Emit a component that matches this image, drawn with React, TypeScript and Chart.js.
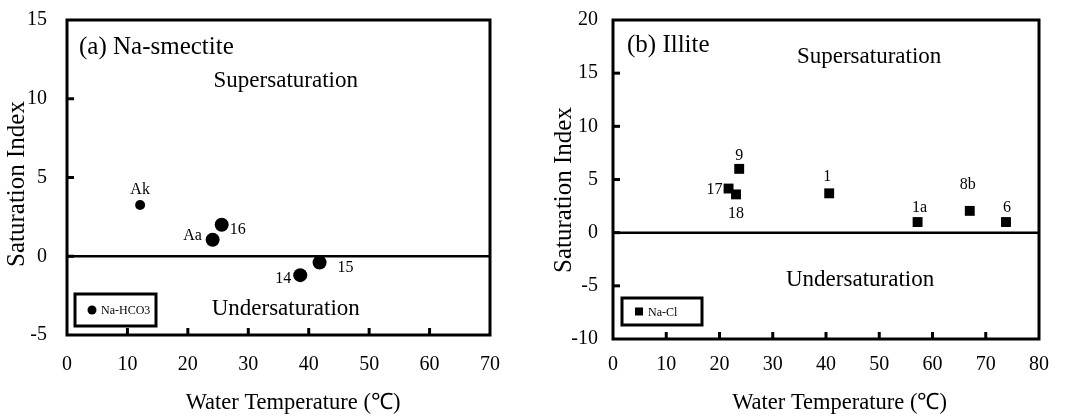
import React, { useEffect, useRef } from "react";
import { Chart, registerables } from "chart.js";
Chart.register(...registerables);

// ---------- data ----------
const smectiteTemps = [12.1, 24.1, 25.6, 38.6, 41.8];
const smectiteSI = [3.25, 1.05, 2.0, -1.2, -0.4];
const smectiteNames = ["Ak", "Aa", "16", "14", "15"];

const illiteTemps = [21.7, 23.1, 23.7, 40.6, 57.2, 67.0, 73.8];
const illiteSI = [4.15, 3.6, 6.0, 3.7, 1.0, 2.05, 1.0];
const illiteNames = ["17", "18", "9", "1", "1a", "8b", "6"];

const smectiteXTicks = [0, 70, 10];
const smectiteYTicks = [-5, 15, 5];
const illiteXTicks = [0, 80, 10];
const illiteYTicks = [-10, 20, 5];

const xTitle = "Water Temperature (℃)";
const yTitle = "Saturation Index";

// ---------- styles ----------
const FONT = '"Liberation Serif", "Times New Roman", serif';

type Panel = {
  title: string;
  legend: string;
  pointStyle: string;
  radius: number[];
  temps: number[];
  si: number[];
  names: string[];
  labelOffsets: [number, number][];
  xTicks: number[];
  yTicks: number[];
  width: number;
  left: number;
  area: [number, number, number, number]; // left, top, right, bottom in canvas px
  xTickPad: number;
  yTickPad: number;
  titleDX: number;
  titleDY: number;
  superPos: [number, number];
  underPos: [number, number];
  legendBox: [number, number, number, number];
  xTitleDX: number;
  yTitleX: number;
  yTitleY: number;
};

const panels: Panel[] = [
  {
    title: "(a) Na-smectite",
    legend: "Na-HCO3",
    pointStyle: "circle",
    radius: [5, 7, 7, 7, 7],
    temps: smectiteTemps,
    si: smectiteSI,
    names: smectiteNames,
    labelOffsets: [[0, -15], [-20, -4], [16, 5], [-17, 4], [26, 5]],
    xTicks: smectiteXTicks,
    yTicks: smectiteYTicks,
    width: 530,
    left: 0,
    area: [67, 20, 490, 335],
    xTickPad: 18,
    yTickPad: 20,
    titleDX: 12,
    titleDY: 27,
    superPos: [36.2, 11.1],
    underPos: [36.2, -3.37],
    legendBox: [8, 9, 81, 32],
    xTitleDX: 14.5,
    yTitleX: 17,
    yTitleY: 184,
  },
  {
    title: "(b) Illite",
    legend: "Na-Cl",
    pointStyle: "rect",
    radius: [7, 7, 7, 7, 7, 7, 7],
    temps: illiteTemps,
    si: illiteSI,
    names: illiteNames,
    labelOffsets: [[-14, 1], [0, 19], [0, -13], [-2, -17], [2, -14], [-2, -26], [1, -14]],
    xTicks: illiteXTicks,
    yTicks: illiteYTicks,
    width: 536,
    left: 530,
    area: [83, 20, 509, 339],
    xTickPad: 14,
    yTickPad: 15,
    titleDX: 14,
    titleDY: 25,
    superPos: [48.1, 16.5],
    underPos: [46.4, -4.46],
    legendBox: [9, 14, 80, 27],
    xTitleDX: 13.5,
    yTitleX: 34,
    yTitleY: 190,
  },
];

function makeDecor(p: Panel) {
  return {
    id: "decor",
    beforeDatasetsDraw(chart: any) {
      const { ctx, chartArea: a, scales } = chart;
      const y0 = scales.y.getPixelForValue(0);
      ctx.save();
      ctx.strokeStyle = "#000";
      ctx.lineWidth = 2.5;
      ctx.beginPath();
      ctx.moveTo(a.left, y0);
      ctx.lineTo(a.right, y0);
      ctx.stroke();
      ctx.restore();
    },
    afterDraw(chart: any) {
      const { ctx, chartArea: a, scales } = chart;
      const xs = scales.x;
      const ys = scales.y;
      ctx.save();
      ctx.strokeStyle = "#000";
      ctx.fillStyle = "#000";
      // inward ticks
      ctx.lineWidth = 3;
      xs.ticks.forEach((t: any) => {
        if (t.value > xs.min && t.value < xs.max) {
          const px = xs.getPixelForValue(t.value);
          ctx.beginPath();
          ctx.moveTo(px, a.bottom);
          ctx.lineTo(px, a.bottom - 7);
          ctx.stroke();
        }
      });
      ys.ticks.forEach((t: any) => {
        if (t.value > ys.min && t.value < ys.max) {
          const py = ys.getPixelForValue(t.value);
          ctx.beginPath();
          ctx.moveTo(a.left, py);
          ctx.lineTo(a.left + 7, py);
          ctx.stroke();
        }
      });
      // frame
      ctx.lineWidth = 3;
      ctx.strokeRect(a.left, a.top, a.right - a.left, a.bottom - a.top);

      // panel title
      ctx.textBaseline = "middle";
      ctx.textAlign = "left";
      ctx.font = `25px ${FONT}`;
      ctx.fillText(p.title, a.left + p.titleDX, a.top + p.titleDY);

      // region labels
      ctx.textAlign = "center";
      ctx.font = `23px ${FONT}`;
      ctx.fillText("Supersaturation", xs.getPixelForValue(p.superPos[0]), ys.getPixelForValue(p.superPos[1]));
      ctx.fillText("Undersaturation", xs.getPixelForValue(p.underPos[0]), ys.getPixelForValue(p.underPos[1]));

      // point labels
      ctx.font = `16px ${FONT}`;
      p.names.forEach((n, i) => {
        const px = xs.getPixelForValue(p.temps[i]);
        const py = ys.getPixelForValue(p.si[i]);
        const [dx, dy] = p.labelOffsets[i];
        ctx.fillText(n, px + dx, py + dy);
      });

      // legend box
      const [lx, lb, lw, lh] = p.legendBox;
      const bx = a.left + lx;
      const by = a.bottom - lb - lh;
      ctx.lineWidth = 3;
      ctx.strokeRect(bx, by, lw, lh);
      const my = by + lh / 2;
      const mx = bx + 17;
      if (p.pointStyle === "circle") {
        ctx.beginPath();
        ctx.arc(mx, my, 4.5, 0, Math.PI * 2);
        ctx.fill();
      } else {
        ctx.fillRect(mx - 4, my - 4, 8, 8);
      }
      ctx.textAlign = "left";
      ctx.font = `12px ${FONT}`;
      ctx.fillText(p.legend, mx + 9, my + 1);

      // axis titles
      ctx.textAlign = "center";
      ctx.font = `22.5px ${FONT}`;
      ctx.fillText(xTitle, (a.left + a.right) / 2 + p.xTitleDX, 403);
      ctx.save();
      ctx.translate(p.yTitleX, p.yTitleY);
      ctx.rotate(-Math.PI / 2);
      ctx.font = `25px ${FONT}`;
      ctx.fillText(yTitle, 0, 0);
      ctx.restore();

      ctx.restore();
    },
  };
}

function PanelChart({ p }: { p: Panel }) {
  const ref = useRef<HTMLCanvasElement>(null);
  useEffect(() => {
    if (!ref.current) return;
    const pad = { left: 0, top: p.area[1], right: p.width - p.area[2], bottom: 0 };
    const chart = new Chart(ref.current, {
      type: "scatter",
      data: {
        datasets: [
          {
            label: p.legend,
            data: p.temps.map((t, i) => ({ x: t, y: p.si[i] })),
            pointStyle: p.pointStyle as any,
            pointRadius: p.radius,
            backgroundColor: "#000",
            borderColor: "#000",
            borderWidth: 0,
            showLine: false,
          },
        ],
      },
      options: {
        responsive: false,
        animation: false,
        events: [],
        layout: { padding: pad },
        plugins: { legend: { display: false }, tooltip: { enabled: false } },
        scales: {
          x: {
            type: "linear",
            min: p.xTicks[0],
            max: p.xTicks[1],
            grid: { display: false, drawTicks: false },
            border: { display: false },
            ticks: {
              stepSize: p.xTicks[2],
              padding: p.xTickPad,
              color: "#000",
              font: { family: FONT, size: 20 },
              maxRotation: 0,
            },
            afterFit: (s: any) => {
              s.height = 416 - p.area[3];
              s.paddingLeft = 0;
              s.paddingRight = 0;
            },
          },
          y: {
            type: "linear",
            min: p.yTicks[0],
            max: p.yTicks[1],
            grid: { display: false, drawTicks: false },
            border: { display: false },
            ticks: {
              stepSize: p.yTicks[2],
              padding: p.yTickPad,
              color: "#000",
              font: { family: FONT, size: 20 },
            },
            afterFit: (s: any) => {
              s.width = p.area[0];
              s.paddingTop = 0;
              s.paddingBottom = 0;
            },
          },
        },
      },
      plugins: [makeDecor(p)],
    });
    return () => chart.destroy();
  }, [p]);
  return (
    <canvas
      ref={ref}
      width={p.width}
      height={416}
      style={{ position: "absolute", left: p.left, top: 0, width: p.width, height: 416 }}
    />
  );
}

export default function App() {
  return (
    <div style={{ position: "fixed", left: 0, top: 0, width: 1066, height: 416, background: "#fff" }}>
      {panels.map((p, i) => (
        <PanelChart key={i} p={p} />
      ))}
    </div>
  );
}
